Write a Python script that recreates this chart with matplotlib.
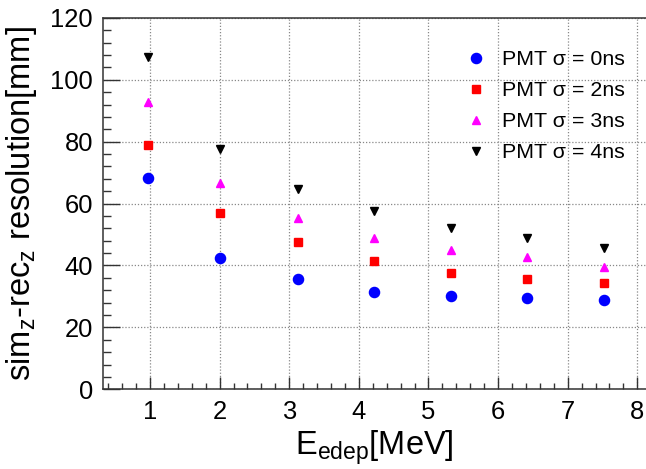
import matplotlib
matplotlib.use('Agg')
import matplotlib.pyplot as plt
from matplotlib.ticker import MultipleLocator

plt.rcParams['font.family'] = ['Liberation Sans', 'DejaVu Sans']
plt.rcParams['mathtext.fontset'] = 'custom'
plt.rcParams['mathtext.rm'] = 'Liberation Sans'
plt.rcParams['mathtext.it'] = 'Liberation Sans'

# deposited energy [MeV]
energy = [0.97, 2.01, 3.12, 4.22, 5.32, 6.42, 7.52]
# z resolution [mm] for each PMT time smearing
res_0ns = [68.4, 42.3, 35.6, 31.4, 30.2, 29.4, 29.0]
res_2ns = [78.9, 57.0, 47.6, 41.6, 37.7, 35.7, 34.4]
res_3ns = [92.8, 66.8, 55.2, 48.9, 44.9, 42.8, 39.6]
res_4ns = [107.5, 77.6, 64.8, 57.6, 52.2, 49.0, 45.5]
labels = ['PMT σ = 0ns', 'PMT σ = 2ns', 'PMT σ = 3ns', 'PMT σ = 4ns']

fig = plt.figure(figsize=(6.46, 4.69), dpi=100)
ax = fig.add_axes([0.1594, 0.1699, 0.8406, 0.7921])

ax.plot(energy, res_0ns, 'o', color='#0000ff', ms=7.3, mec='#0000ff', label=labels[0])
ax.plot(energy, res_2ns, 's', color='#ff0000', ms=6.0, mec='#ff0000', label=labels[1])
ax.plot(energy, res_3ns, '^', color='#ff00ff', ms=5.6, mec='#ff00ff', label=labels[2])
ax.plot(energy, res_4ns, 'v', color='black', ms=6.3, mec='black', label=labels[3])

ax.set_xlim(0.325, 8.125)
ax.set_ylim(0, 120)
ax.xaxis.set_major_locator(MultipleLocator(1))
ax.xaxis.set_minor_locator(MultipleLocator(0.2))
ax.yaxis.set_major_locator(MultipleLocator(20))
ax.yaxis.set_minor_locator(MultipleLocator(4))

ax.grid(True, which='major', linestyle=(0, (1, 1.5)), color='#888888', linewidth=0.9)
ax.set_axisbelow(True)

ax.tick_params(axis='x', which='major', direction='in', length=8.6, width=1, pad=7.9, labelsize=18.4, color='#333333')
ax.tick_params(axis='x', which='minor', direction='in', length=4.3, width=1, color='#333333')
ax.tick_params(axis='y', which='major', direction='in', length=11.9, width=1, pad=7.2, labelsize=18.4, color='#333333')
ax.tick_params(axis='y', which='minor', direction='in', length=5.8, width=1, color='#333333')

for side in ['left', 'bottom', 'top']:
    ax.spines[side].set_linewidth(1.1)
    ax.spines[side].set_color('#333333')
ax.spines['right'].set_visible(False)

ax.set_xlabel(r'E$_{\mathregular{edep}}$[MeV]', fontsize=23.5, labelpad=3)
ax.set_ylabel(r'sim$_{\mathregular{z}}$-rec$_{\mathregular{z}}$ resolution[mm]', fontsize=23.5, labelpad=8)

ax.legend(loc='upper left', bbox_to_anchor=(0.7198, 0.893), bbox_transform=fig.transFigure,
          frameon=False, fontsize=15.4, handlelength=1.0, handletextpad=0.72,
          labelspacing=0.56, borderpad=0, borderaxespad=0)

fig.savefig('out.png', dpi=100)
